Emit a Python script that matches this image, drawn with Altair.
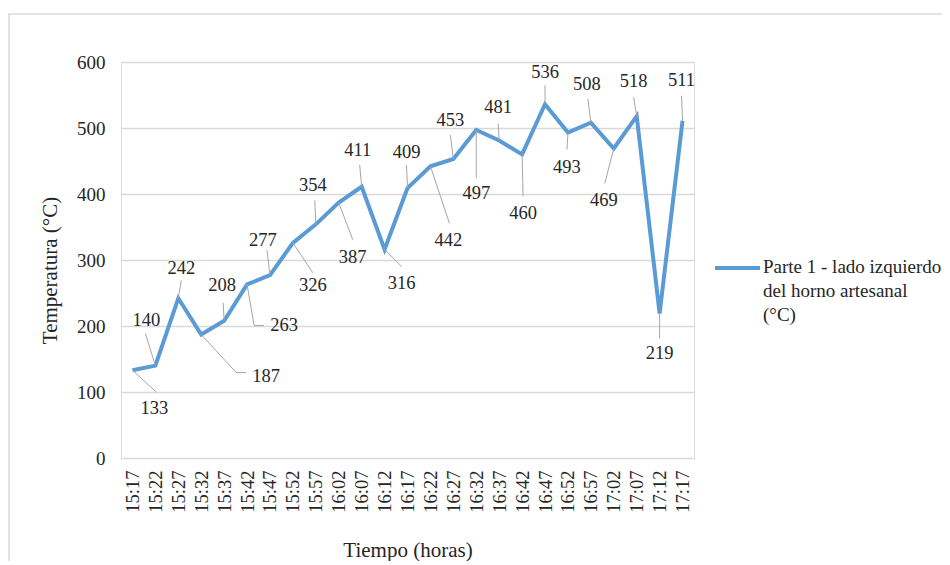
import json
import altair as alt
import pandas as pd

# ---- data ----
times = ["15:17", "15:22", "15:27", "15:32", "15:37", "15:42", "15:47", "15:52",
         "15:57", "16:02", "16:07", "16:12", "16:17", "16:22", "16:27", "16:32",
         "16:37", "16:42", "16:47", "16:52", "16:57", "17:02", "17:07", "17:12", "17:17"]
temps = [133, 140, 242, 187, 208, 263, 277, 326, 354, 387, 411, 316, 409, 442,
         453, 497, 481, 460, 536, 493, 508, 469, 518, 219, 511]
series_name = "Parte 1 - lado izquierdo del horno artesanal (°C)"

# ---- label placement (pixel offsets from each point, style only) ----
label_dx = [22, -9, 3, 65, -2, 37, -7, 20, -3, 14, -4, 17, -1, 18, -3, 0, -1, 1, 0, -1, -4, -10, -3, 0, -1]
label_dy = [38, -46, -30, 41, -36, 41, -35, 42, -39, 54, -37, 34, -36, 74, -39, 63, -34, 59, -32, 34, -39, 52, -35, 40, -41]
leader_end_dx = [24, -10, 3, 35, -1, 7, -3, 20, -1, 14, -2, 17, -1, 19, -3, 0, -1, 1, 0, -1, -3, -9, -3, 0, -1]
leader_end_dy = [22, -32, -18, 38, -18, 41, -25, 30, -24, 37, -22, 17, -23, 57, -24, 48, -17, 42, -19, 17, -24, 35, -19, 25, -25]
leader_tail_dx = {3: 45, 5: 17}  # horizontal elbow on a few leaders

FONT = "Liberation Serif"
TXT = "#262626"
BLUE = "#5b9bd5"
GRID = "#d9d9d9"
W, H = 573, 396
YMAX = 600
N = len(times)
PY = YMAX / H        # data units per pixel, y
PXX = N / W          # category units per pixel, x

df = pd.DataFrame({"i": list(range(N)), "t": times, "v": temps,
                   "dx": label_dx, "dy": label_dy})

rows = []
for i, v in enumerate(temps):
    pts = [(0, 0), (leader_end_dx[i], leader_end_dy[i])]
    if i in leader_tail_dx:
        pts.append((leader_tail_dx[i], leader_end_dy[i]))
    for k, (ox, oy) in enumerate(pts):
        rows.append({"i": i, "v": v, "k": k, "ox": ox, "oy": oy})
leaders_df = pd.DataFrame(rows)

x_scale = alt.Scale(domain=[-0.5, N - 0.5], nice=False, zero=False)
x_axis = alt.Axis(title="Tiempo (horas)", values=list(range(N)),
                  labelExpr=f"{json.dumps(times)}[datum.value]",
                  labelAngle=270, labelFont=FONT, labelFontSize=18.5, labelColor=TXT,
                  labelPadding=12, labelFlush=False, labelOverlap=False,
                  ticks=False, domain=False, grid=False,
                  titleFont=FONT, titleFontSize=21, titleFontWeight="normal",
                  titleColor=TXT, titleY=92, titleBaseline="middle")
y_scale = alt.Scale(domain=[0, YMAX])
y_axis = alt.Axis(title="Temperatura (°C)", values=[0, 100, 200, 300, 400, 500, 600],
                  labelFont=FONT, labelFontSize=19, labelColor=TXT, labelPadding=16,
                  ticks=False, domain=False, grid=True, gridColor=GRID, gridWidth=1.3,
                  titleFont=FONT, titleFontSize=21, titleFontWeight="normal",
                  titleColor=TXT, titleX=-71, titleY=208, titleAngle=270,
                  titleBaseline="middle", titleAlign="center")

line = alt.Chart(df).mark_line(color=BLUE, strokeWidth=4, strokeJoin="miter").encode(
    x=alt.X("i:Q", scale=x_scale, axis=x_axis),
    y=alt.Y("v:Q", scale=y_scale, axis=y_axis))

leaders = alt.Chart(leaders_df).transform_calculate(
    lx=alt.datum.i + alt.datum.ox * PXX,
    ly=alt.datum.v - alt.datum.oy * PY
).mark_line(color="#a6a6a6", strokeWidth=1).encode(
    x=alt.X("lx:Q", scale=x_scale, axis=x_axis),
    y=alt.Y("ly:Q", scale=y_scale, axis=y_axis),
    detail="i:N", order="k:Q")

labels = alt.Chart(df).transform_calculate(
    lx=alt.datum.i + alt.datum.dx * PXX,
    ly=alt.datum.v - alt.datum.dy * PY
).mark_text(font=FONT, fontSize=18.5, color=TXT).encode(
    x=alt.X("lx:Q", scale=x_scale, axis=x_axis),
    y=alt.Y("ly:Q", scale=y_scale, axis=y_axis),
    text="v:Q")

legend_line = alt.Chart(pd.DataFrame({"s": [series_name]})).mark_rule(
    color=BLUE, strokeWidth=4).encode(
    x=alt.value(594), x2=alt.value(639), y=alt.value(206), y2=alt.value(206))
legend_text = alt.Chart(pd.DataFrame({"s": [series_name]})).mark_text(
    font=FONT, fontSize=19, color=TXT, align="left", baseline="top",
    lineBreak="|", lineHeight=24).encode(
    x=alt.value(642), y=alt.value(196),
    text=alt.value("Parte 1 - lado izquierdo|del horno artesanal|(°C)"))

frame = alt.Chart(pd.DataFrame({"s": [0]})).mark_rect(
    fill=None, stroke=GRID, strokeWidth=1.5).encode(
    x=alt.value(-112), x2=alt.value(840), y=alt.value(-48), y2=alt.value(520))

chart = alt.layer(frame, line, leaders, labels, legend_line, legend_text).properties(
    width=W, height=H,
    autosize=alt.AutoSizeParams(type="none"),
    padding={"left": 113, "top": 54, "right": 248, "bottom": 103},
).configure_view(stroke=None).configure(background="white")

chart.save("out.html", embed_options={"renderer": "svg", "actions": False})
